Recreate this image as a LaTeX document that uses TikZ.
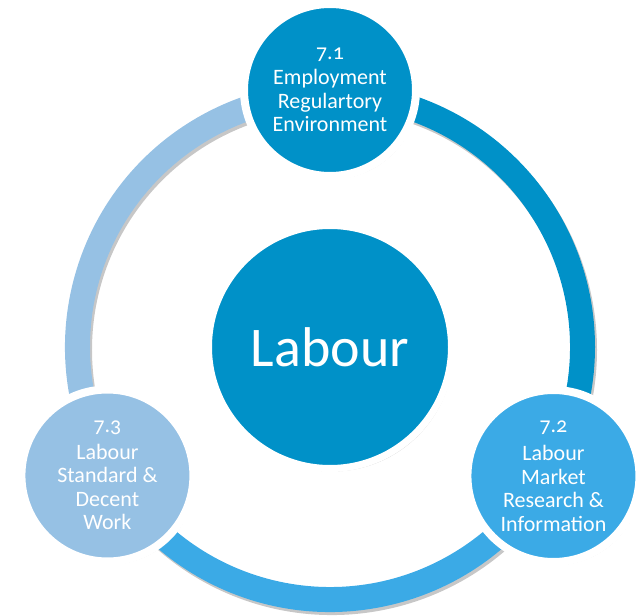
\documentclass[tikz,border=0pt]{standalone}
\usepackage{fontspec}
\setmainfont{Carlito}[Numbers=OldStyle]
\usetikzlibrary{backgrounds}
\usetikzlibrary{shadows}
\definecolor{labdark}{RGB}{0,145,200}
\definecolor{labmid}{RGB}{59,170,230}
\definecolor{lablight}{RGB}{150,193,228}
\newcommand{\ringouter}{265pt}
\newcommand{\ringinner}{240pt}
\newcommand{\satsize}{172pt}
\newcommand{\hubsize}{243pt}
\newcommand{\ringpart}[3]{
  \fill[#1, softshadow] (#2:\ringouter) arc (#2:#3:\ringouter)
    -- (#3:\ringinner) arc (#3:#2:\ringinner) -- cycle;
}

\begin{document}
\begin{tikzpicture}[x=1pt,y=1pt,
    softshadow/.style={drop shadow={shadow xshift=2pt,shadow yshift=-3pt,
      opacity=0.22,fill=black}},
    sat/.style={circle,draw=white,line width=8pt,minimum size=\satsize,
      inner sep=0pt,align=center,text=white,softshadow,
      font=\fontsize{22}{23.5}\selectfont},
    hubstyle/.style={circle,draw=white,line width=7pt,minimum size=\hubsize,
      inner sep=0pt,text=white,fill=labdark,softshadow,
      font=\fontsize{56}{60}\selectfont}]
    \useasboundingbox (-330,-268) rectangle (306,347);
    \begin{scope}[on background layer]
      % ring
      \ringpart{labdark}{90}{-30}
      \ringpart{labmid}{-30}{-150}
      \ringpart{lablight}{210}{90}
    \end{scope}
    % centre
    \node[hubstyle] (hub) at (0,0) {Labour};
    % outer circles
    \node[sat,fill=labdark] (regulatory) at (90:257pt)
      {7.1\\[2pt]Employment\\Regulartory\\Environment};
    \node[sat,fill=labmid] (research) at (330:258pt)
      {7.2\\[5pt]Labour\\Market\\Research \&\\Information};
    \node[sat,fill=lablight] (standards) at (210:257pt)
      {7.3\\[3pt]Labour\\Standard \&\\Decent\\Work};
  \end{tikzpicture}
\end{document}
